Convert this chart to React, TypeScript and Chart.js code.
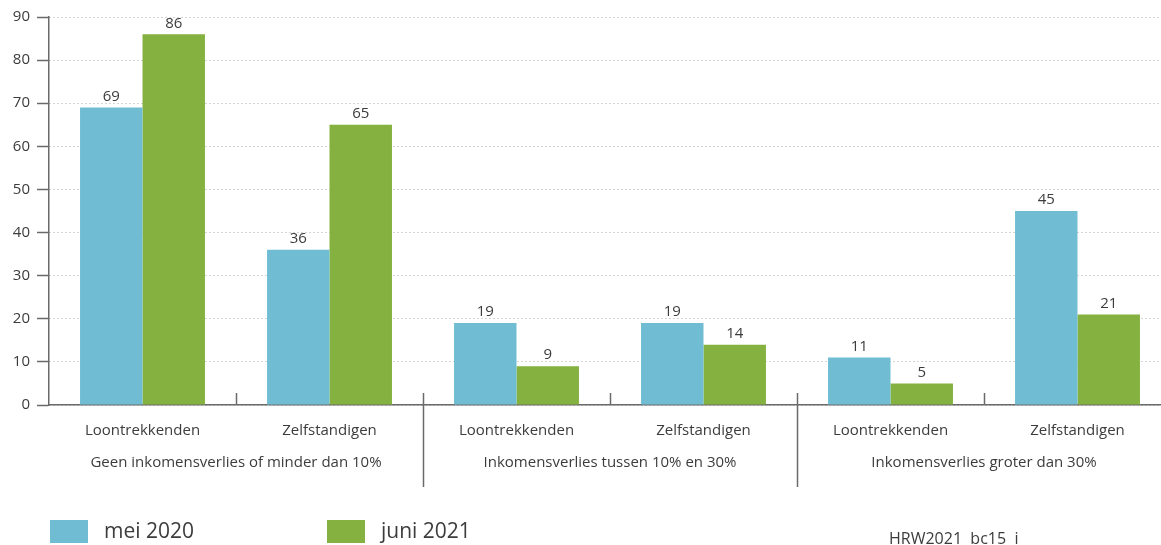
import React, { useEffect, useRef } from "react";
import { Chart, registerables } from "chart.js";

Chart.register(...registerables);

const subCategories = ["Loontrekkenden", "Zelfstandigen", "Loontrekkenden", "Zelfstandigen", "Loontrekkenden", "Zelfstandigen"];
const groupLabels = ["Geen inkomensverlies of minder dan 10%", "Inkomensverlies tussen 10% en 30%", "Inkomensverlies groter dan 30%"];
const seriesNames = ["mei 2020", "juni 2021"];
const mei2020 = [69, 36, 19, 19, 11, 45];
const juni2021 = [86, 65, 9, 14, 5, 21];
const yTicks = [0, 10, 20, 30, 40, 50, 60, 70, 80, 90];
const sourceNote = "HRW2021  bc15  i";

const BLUE = "#70bdd3";
const GREEN = "#84b13f";
const TEXT = "#3c3c3c";
const AXIS = "#6a6a6a";
const FONT = "'Open Sans', 'Noto Sans', sans-serif";

export default function App() {
  const ref = useRef<HTMLCanvasElement | null>(null);

  useEffect(() => {
    const canvas = ref.current;
    if (!canvas) return;

    const overlay = {
      id: "overlay",
      afterDatasetsDraw(chart: any) {
        const ctx = chart.ctx;
        ctx.save();
        ctx.fillStyle = TEXT;
        ctx.font = `15px ${FONT}`;
        ctx.textAlign = "center";
        ctx.textBaseline = "middle";
        chart.data.datasets.forEach((ds: any, di: number) => {
          const meta = chart.getDatasetMeta(di);
          meta.data.forEach((bar: any, i: number) => {
            ctx.fillText(String(ds.data[i]), bar.x, bar.y - 11);
          });
        });
        ctx.restore();
      },
      afterDraw(chart: any) {
        const ctx = chart.ctx;
        const x = chart.scales.x;
        const area = chart.chartArea;
        const bottom = area.bottom;
        ctx.save();
        ctx.strokeStyle = AXIS;
        ctx.lineWidth = 1.5;
        const n = subCategories.length;
        for (let i = 0; i < n - 1; i++) {
          const bx = Math.round((x.getPixelForValue(i) + x.getPixelForValue(i + 1)) / 2) + 0.5;
          ctx.beginPath();
          ctx.moveTo(bx, bottom - 12);
          ctx.lineTo(bx, i % 2 === 1 ? bottom + 82 : bottom);
          ctx.stroke();
        }
        ctx.fillStyle = TEXT;
        ctx.font = `15px ${FONT}`;
        ctx.textAlign = "center";
        ctx.textBaseline = "middle";
        subCategories.forEach((lab, i) => {
          ctx.fillText(lab, x.getPixelForValue(i), bottom + 26);
        });
        groupLabels.forEach((lab, g) => {
          const cx = (x.getPixelForValue(g * 2) + x.getPixelForValue(g * 2 + 1)) / 2;
          ctx.fillText(lab, cx, bottom + 58);
        });
        // legend
        const colors = [BLUE, GREEN];
        const boxX = [50, 327];
        ctx.textAlign = "left";
        ctx.font = `21px ${FONT}`;
        seriesNames.forEach((name, i) => {
          ctx.fillStyle = colors[i];
          ctx.fillRect(boxX[i], 520, 38, 23);
          ctx.fillStyle = TEXT;
          ctx.fillText(name, boxX[i] + 54, 532);
        });
        ctx.font = `16px ${FONT}`;
        ctx.fillText(sourceNote, 889, 539);
        ctx.restore();
      },
    };

    const chart = new Chart(canvas, {
      type: "bar",
      data: {
        labels: subCategories,
        datasets: [
          { label: seriesNames[0], data: mei2020, backgroundColor: BLUE, categoryPercentage: 0.668, barPercentage: 1.0 },
          { label: seriesNames[1], data: juni2021, backgroundColor: GREEN, categoryPercentage: 0.668, barPercentage: 1.0 },
        ],
      },
      options: {
        animation: false,
        responsive: false,
        devicePixelRatio: 1,
        layout: { padding: { left: 0, right: 12, top: 17, bottom: 0 } },
        plugins: { legend: { display: false }, tooltip: { enabled: false } },
        scales: {
          x: {
            grid: { display: false },
            ticks: { display: false },
            border: { display: true, color: AXIS, width: 1.5 },
            afterFit: (s: any) => { s.height = 140; s.paddingLeft = 0; s.paddingRight = 0; },
          },
          y: {
            min: 0,
            max: 90,
            afterBuildTicks: (s: any) => { s.ticks = yTicks.map((v) => ({ value: v })); },
            ticks: { color: TEXT, font: { family: FONT, size: 15 }, padding: 7 },
            grid: { color: "#a8a8a8", tickColor: AXIS, tickLength: 12, lineWidth: 1, tickWidth: 1.5 },
            border: { display: true, color: AXIS, width: 1.5, dash: [1, 3] },
            afterFit: (s: any) => { s.width = 49; s.paddingTop = 0; s.paddingBottom = 0; },
          },
        },
      },
      plugins: [overlay],
    });
    return () => chart.destroy();
  }, []);

  return (
    <div style={{ position: "absolute", left: 0, top: 0, width: 1161, height: 545, overflow: "hidden" }}>
      <canvas ref={ref} width={1183} height={545} style={{ display: "block" }} />
    </div>
  );
}
